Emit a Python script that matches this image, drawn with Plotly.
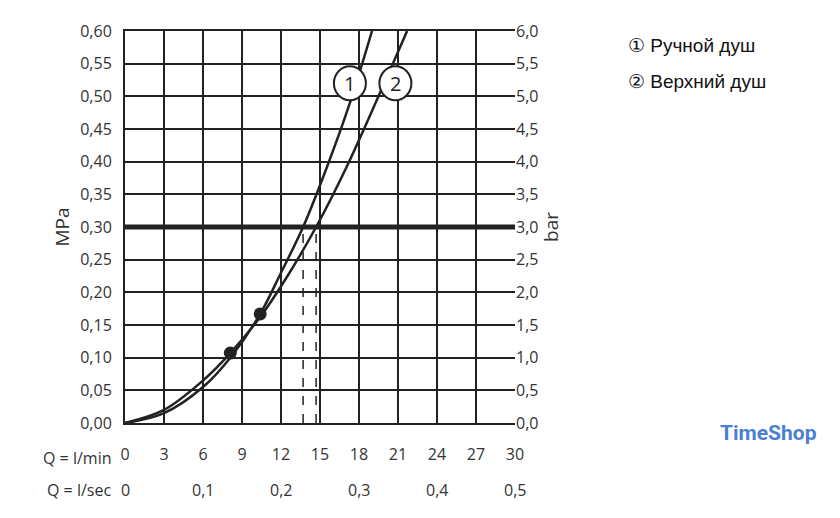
import plotly.graph_objects as go

# flow l/min and pressure MPa
q1 = [0, 3, 6, 8.3, 10.4, 12, 13.7, 15.5, 17.3, 19.0]
p1 = [0, 0.015, 0.055, 0.105, 0.167, 0.23, 0.30, 0.39, 0.49, 0.60]
q2 = [0, 3, 6, 8.1, 10.5, 12.5, 14.7, 17, 19.5, 21.7]
p2 = [0, 0.02, 0.065, 0.107, 0.165, 0.225, 0.30, 0.39, 0.50, 0.60]
dots_q = [10.4, 8.1]
dots_p = [0.167, 0.107]
dash_q = [13.7, 14.7]

xticks = list(range(0, 31, 3))
yticks = [i * 0.05 for i in range(13)]
sec_pos = [0, 6, 12, 18, 24, 30]
sec_lbl = ["0", "0,1", "0,2", "0,3", "0,4", "0,5"]
legend = ["① Ручной душ", "② Верхний душ"]

fnt = dict(family="Open Sans", size=16, color="#333")
fig = go.Figure()
for q, p in [(q1, p1), (q2, p2)]:
    fig.add_trace(go.Scatter(x=q, y=p, mode="lines", line=dict(color="#222", width=2.5, shape="spline"),
                             showlegend=False))
for q in dash_q:
    fig.add_trace(go.Scatter(x=[q, q], y=[0, 0.3], mode="lines",
                             line=dict(color="#222", width=1.5, dash="dash"), showlegend=False))
fig.add_trace(go.Scatter(x=[0, 30], y=[0.3, 0.3], mode="lines", line=dict(color="#222", width=5),
                         showlegend=False))
fig.add_trace(go.Scatter(x=dots_q, y=dots_p, mode="markers", marker=dict(color="#222", size=13),
                         showlegend=False))
fig.add_trace(go.Scatter(x=[0], y=[0], yaxis="y2", mode="markers", marker=dict(opacity=0),
                         showlegend=False))

fig.update_layout(
    width=840, height=518, margin=dict(l=117, r=333, t=23, b=103),
    plot_bgcolor="white", paper_bgcolor="white", font=fnt,
    xaxis=dict(range=[0, 30], tickvals=xticks, showgrid=True, gridcolor="#222", gridwidth=1.5,
               showline=True, linecolor="#222", linewidth=2, mirror=True, zeroline=False, ticks="",
               automargin=False, ticklabelstandoff=16),
    yaxis=dict(range=[0, 0.6], tickvals=yticks, ticktext=[f"{v:.2f}".replace(".", ",") for v in yticks],
               showgrid=True, gridcolor="#222", gridwidth=1.5, showline=True, linecolor="#222",
               linewidth=2, zeroline=False, ticks="", automargin=False, ticklabelstandoff=8,
               title=dict(text="MPa", standoff=6)),
    yaxis2=dict(range=[0, 6], overlaying="y", side="right", tickvals=[i * 0.5 for i in range(13)],
                ticktext=[f"{i * 0.5:.1f}".replace(".", ",") for i in range(13)], showgrid=False,
                zeroline=False, ticks="", automargin=False, title=dict(text="bar", standoff=6)),
)
fig.add_annotation(x=0, y=0, xref="paper", yref="paper", text="Q = l/min", showarrow=False,
                   xanchor="right", yanchor="top", xshift=-12, yshift=-22, font=fnt)
fig.add_annotation(x=0, y=0, xref="paper", yref="paper", text="Q = l/sec", showarrow=False,
                   xanchor="right", yanchor="top", xshift=-12, yshift=-54, font=fnt)
for pos, lbl in zip(sec_pos, sec_lbl):
    fig.add_annotation(x=pos, y=0, yref="paper", text=lbl, showarrow=False, yanchor="top",
                       yshift=-54, font=fnt)
for txt, xv in [("1", 17.3), ("2", 20.8)]:
    fig.add_shape(type="circle", xref="x", yref="y", xsizemode="pixel", ysizemode="pixel",
                  xanchor=xv, yanchor=0.52, x0=-16, x1=16, y0=-17, y1=17,
                  fillcolor="white", line=dict(color="#222", width=2), layer="above")
    fig.add_annotation(x=xv, y=0.52, text=txt, showarrow=False, font=dict(size=20, color="#222"))
for i, t in enumerate(legend):
    fig.add_annotation(x=(626 - 125) / 390, y=(422 - (32 + i * 36)) / 392, xref="paper", yref="paper",
                       text=t, showarrow=False, xanchor="left",
                       font=dict(family="Liberation Sans", size=19, color="#111"))
fig.add_annotation(x=(718 - 125) / 390, y=(422 - 446) / 392, xref="paper", yref="paper",
                   text="<b>TimeShop</b>", showarrow=False, xanchor="left",
                   font=dict(family="Roboto", size=21, color="#4a7fd4"))
fig.write_html("out.html")
